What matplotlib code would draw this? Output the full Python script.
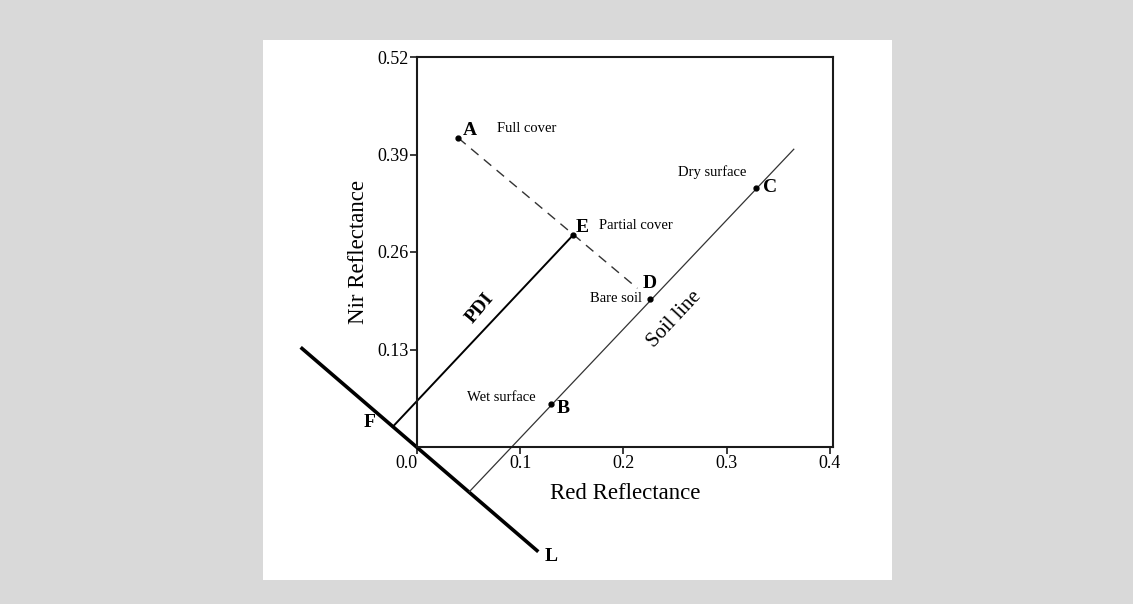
import matplotlib
matplotlib.use("Agg")
import matplotlib.pyplot as plt
from matplotlib.patches import Rectangle

# ---- data ----
pt_names = ["A", "B", "C", "D", "E"]
pt_x = [0.040, 0.130, 0.328, 0.226, 0.1515]
pt_y = [0.412, 0.058, 0.346, 0.197, 0.283]

soil_x = [0.0507, 0.365]
soil_y = [-0.0596, 0.397]

l_line_x = [-0.1127, 0.1175]
l_line_y = [0.1329, -0.1396]

pdi_x = [-0.0235, 0.1515]
pdi_y = [0.027, 0.283]

dash_x = [0.040, 0.2135]
dash_y = [0.412, 0.2116]

x_ticks = [0.0, 0.1, 0.2, 0.3, 0.4]
x_ticklabels = ["0.0", "0.1", "0.2", "0.3", "0.4"]
y_ticks = [0.13, 0.26, 0.39, 0.52]
y_ticklabels = ["0.13", "0.26", "0.39", "0.52"]

letter_labels = ["A", "B", "C", "D", "E", "F", "L"]
letter_x = [0.0516, 0.1415, 0.342, 0.2256, 0.1603, -0.0461, 0.1295]
letter_y = [0.4223, 0.0515, 0.346, 0.2185, 0.2931, 0.0323, -0.1456]

desc_labels = ["Full cover", "Partial cover", "Bare soil", "Dry surface", "Wet surface"]
desc_x = [0.0775, 0.176, 0.2175, 0.2859, 0.0814]
desc_y = [0.425, 0.296, 0.198, 0.3667, 0.0659]
desc_ha = ["left", "left", "right", "center", "center"]

SERIF = ["Liberation Serif", "DejaVu Serif"]

fig = plt.figure(figsize=(11.33, 6.04), dpi=100)
fig.patch.set_facecolor("#d9d9d9")

# white panel behind the chart
bg = fig.add_axes([0, 0, 1, 1], zorder=-5)
bg.set_xlim(0, 1133)
bg.set_ylim(604, 0)
bg.axis("off")
bg.add_patch(Rectangle((263, 40), 629, 540, facecolor="white", edgecolor="none"))

ax = fig.add_axes([417 / 1133, 157 / 604, 416 / 1133, 390 / 604], zorder=1)
ax.set_facecolor("none")
ax.set_xlim(0, 0.403)
ax.set_ylim(0, 0.52)

for s in ax.spines.values():
    s.set_linewidth(1.5)
    s.set_color("#1a1a1a")

ax.set_xticks(x_ticks)
ax.set_xticklabels(x_ticklabels, fontfamily=SERIF, fontsize=13)
ax.set_yticks(y_ticks)
ax.set_yticklabels(y_ticklabels, fontfamily=SERIF, fontsize=13)
ax.tick_params(axis="both", direction="out", length=5, width=1.2, color="#1a1a1a", pad=1)
ax.get_xticklabels()[0].set_ha("right")

ax.set_xlabel("Red Reflectance", fontfamily=SERIF, fontsize=16.5, labelpad=8)
ax.set_ylabel("Nir Reflectance", fontfamily=SERIF, fontsize=16.5, labelpad=6)

# lines
ax.plot(l_line_x, l_line_y, color="black", lw=2.6, clip_on=False, solid_capstyle="butt")
ax.plot(soil_x, soil_y, color="#333333", lw=0.9, clip_on=False)
ax.plot(pdi_x, pdi_y, color="black", lw=1.4, clip_on=False)
ax.plot(dash_x, dash_y, color="#333333", lw=1.0, dashes=(7, 5), clip_on=False)

# points
ax.plot(pt_x, pt_y, linestyle="none", marker="o", markersize=3.5, color="black", clip_on=False)

for t, x, y in zip(letter_labels, letter_x, letter_y):
    ax.text(x, y, t, fontfamily=SERIF, fontsize=14, fontweight="bold",
            ha="center", va="center", clip_on=False)

for t, x, y, ha in zip(desc_labels, desc_x, desc_y, desc_ha):
    ax.text(x, y, t, fontfamily=SERIF, fontsize=10.5, ha=ha, va="center", clip_on=False)

ax.text(0.0614, 0.1853, "PDI", fontfamily=SERIF, fontsize=14, fontweight="bold",
        rotation=50, ha="center", va="center", rotation_mode="anchor")
ax.text(0.2493, 0.1703, "Soil line", fontfamily=SERIF, fontsize=15,
        rotation=47, ha="center", va="center", rotation_mode="anchor")

fig.savefig("out.png", dpi=100, facecolor=fig.get_facecolor())
